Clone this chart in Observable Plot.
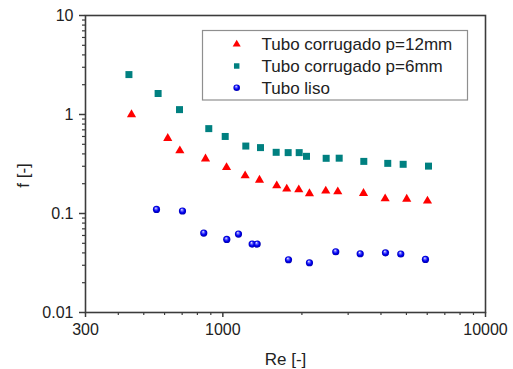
<!DOCTYPE html>
<html>
<head>
<meta charset="utf-8">
<script src="https://cdn.jsdelivr.net/npm/d3@7"></script>
<script src="https://cdn.jsdelivr.net/npm/@observablehq/plot@0.6"></script>
<style>
  html, body { margin: 0; padding: 0; background: #fff; }
  #chart { position: relative; width: 513px; height: 369px; }
</style>
</head>
<body>
<div id="chart"></div>
<script>
// Series: Tubo corrugado p=12mm (triangles)
const re12 = [449, 617, 686, 859, 1033, 1216, 1379, 1604, 1751, 1946, 2137, 2465, 2739, 3432, 4149, 5013, 6013];
const f12  = [1.0, 0.574, 0.431, 0.356, 0.292, 0.241, 0.218, 0.191, 0.177, 0.174, 0.159, 0.169, 0.166, 0.160, 0.141, 0.140, 0.134];
// Series: Tubo corrugado p=6mm (squares)
const re6 = [439, 567, 684, 884, 1021, 1223, 1391, 1596, 1773, 1953, 2082, 2474, 2773, 3441, 4245, 4859, 6066];
const f6  = [2.53, 1.63, 1.12, 0.72, 0.60, 0.48, 0.463, 0.415, 0.412, 0.412, 0.378, 0.361, 0.362, 0.336, 0.321, 0.314, 0.301];
// Series: Tubo liso (spheres)
const reLiso = [559, 702, 846, 1035, 1147, 1293, 1351, 1778, 2137, 2691, 3334, 4161, 4758, 5907];
const fLiso  = [0.110, 0.106, 0.0635, 0.0547, 0.0620, 0.0491, 0.0491, 0.0341, 0.0318, 0.0411, 0.0392, 0.0401, 0.0390, 0.0344];

const seriesNames = ["Tubo corrugado p=12mm", "Tubo corrugado p=6mm", "Tubo liso"];
const xMajorTicks = [300, 1000, 10000];
const xMinorTicks = [400, 500, 600, 700, 800, 900, 2000, 3000, 4000, 5000, 6000, 7000, 8000, 9000];
const yMajorTicks = [0.01, 0.1, 1, 10];
const yMinorTicks = [0.02,0.03,0.04,0.05,0.06,0.07,0.08,0.09,0.2,0.3,0.4,0.5,0.6,0.7,0.8,0.9,2,3,4,5,6,7,8,9];
const xTitle = "Re [-]";
const yTitle = "f [-]";

const zip = (xs, ys) => xs.map((x, i) => ({x, y: ys[i]}));
const d12 = zip(re12, f12), d6 = zip(re6, f6), dLiso = zip(reLiso, fLiso);

const axisStroke = "#3c3c3c";
const textColor = "#222";
const font = "'Liberation Sans', Arial, sans-serif";

const chart = Plot.plot({
  width: 513, height: 369,
  marginLeft: 85, marginRight: 28, marginTop: 15, marginBottom: 57,
  style: {fontFamily: font, fontSize: "16px", color: textColor, background: "white", overflow: "visible"},
  x: {type: "log", domain: [300, 10000], label: null},
  y: {type: "log", domain: [0.01, 10], label: null},
  marks: [
    Plot.axisX({ticks: xMajorTicks, tickSize: 5, tickPadding: 6, tickFormat: d => String(d), label: null, stroke: axisStroke, strokeWidth: 1.5, fill: textColor}),
    Plot.axisX({ticks: xMinorTicks, tickSize: 3, tickFormat: () => "", label: null, stroke: axisStroke, strokeWidth: 1.2}),
    Plot.axisY({ticks: yMajorTicks, tickSize: 6, tickPadding: 6, tickFormat: d => String(d), label: null, stroke: axisStroke, strokeWidth: 1.5, fill: textColor}),
    Plot.axisY({ticks: yMinorTicks, tickSize: 3, tickFormat: () => "", label: null, stroke: axisStroke, strokeWidth: 1.2}),
    Plot.frame({stroke: axisStroke, strokeWidth: 1.6}),
    Plot.dot(d6, {x: "x", y: "y", symbol: "square", r: 3.95, fill: "#008080", stroke: "none"}),
    Plot.dot(d12, {x: "x", y: "y", symbol: "triangle", r: 3.4, fill: "#ff0000", stroke: "none"}),
    Plot.dot(dLiso, {x: "x", y: "y", r: 3.6, fill: "url(#sphere)", stroke: "none"}),
    Plot.text([xTitle], {frameAnchor: "bottom", lineAnchor: "bottom", dy: 52, fontSize: 17, fill: textColor}),
    Plot.text([yTitle], {frameAnchor: "left", rotate: -90, lineAnchor: "middle", textAnchor: "middle", dx: -61.5, dy: 11.5, fontSize: 17, fill: textColor})
  ]
});

const svg = d3.select(chart);
svg.insert("defs", ":first-child").html(
  `<radialGradient id="sphere" cx="50%" cy="50%" r="55%" fx="40%" fy="30%">
     <stop offset="0%" stop-color="#ffffff"/>
     <stop offset="25%" stop-color="#6f6fff"/>
     <stop offset="60%" stop-color="#0000f0"/>
     <stop offset="100%" stop-color="#0000a0"/>
   </radialGradient>`
);

// Legend inside plot area
const lg = svg.append("g").attr("font-family", font).attr("font-size", 17)
  .attr("fill", textColor).attr("text-anchor", "start");
lg.append("rect").attr("x", 202.5).attr("y", 30.5).attr("width", 265).attr("height", 69.5)
  .attr("fill", "white").attr("stroke", "#8f8f8f").attr("stroke-width", 1.2);
const rowY = [44.3, 66, 87.7];
const mx = 236.7, tx = 261.5;
lg.append("path").attr("transform", `translate(${mx},${rowY[0]})`)
  .attr("d", d3.symbol(d3.symbolTriangle, 28)()).attr("fill", "#ff0000");
lg.append("path").attr("transform", `translate(${mx},${rowY[1]})`)
  .attr("d", d3.symbol(d3.symbolSquare, 30)()).attr("fill", "#008080");
lg.append("circle").attr("cx", mx).attr("cy", rowY[2]).attr("r", 3.3).attr("fill", "url(#sphere)");
seriesNames.forEach((name, i) => {
  lg.append("text").attr("x", tx).attr("y", rowY[i]).attr("dy", "0.36em")
    .attr("text-anchor", "start").text(name);
});

document.getElementById("chart").appendChild(chart);
</script>
</body>
</html>
